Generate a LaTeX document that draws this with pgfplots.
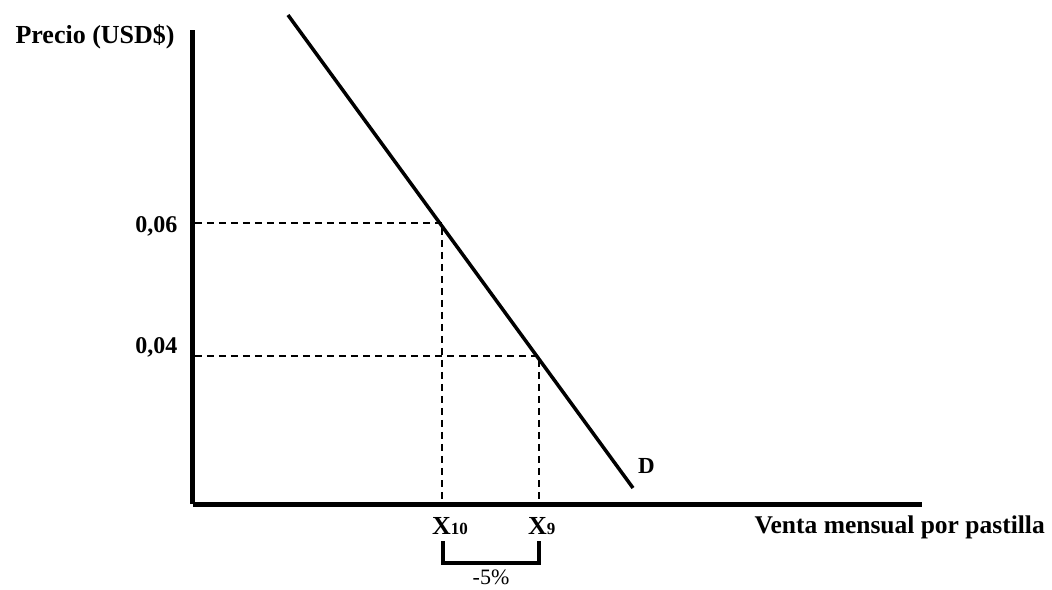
\documentclass[border=0pt]{standalone}
\usepackage{fontspec}
\setmainfont{Liberation Serif}
\usepackage{pgfplots}
\pgfplotsset{compat=1.18}
\begin{document}
\begin{tikzpicture}
\begin{axis}[x=1pt,y=1pt,
  xmin=193,xmax=922,ymin=85,ymax=559,
  axis lines=left,
  axis line style={line width=5pt,-},
  xtick=\empty, ytick=\empty,
  clip=false]
\path (axis cs:0,0) rectangle (axis cs:1052,589);
% demand curve
\addplot[black, line width=3.5pt, no marks] coordinates {(288,574) (633,101)};
% dashed guides
\addplot[black, line width=1.3pt, no marks, dash pattern=on 7pt off 5pt] coordinates {(195,366) (442,366) (442,85)};
\addplot[black, line width=1.3pt, no marks, dash pattern=on 7pt off 5pt] coordinates {(195,233) (539,233) (539,85)};
% bracket
\addplot[black, line width=4pt, no marks, line join=miter] coordinates {(443,48) (443,26) (539,26) (539,48)};
\node[anchor=base west, font=\fontsize{26}{30}\selectfont\bfseries] at (axis cs:12,545) {Precio (USD\$)};
\node[anchor=base east, font=\fontsize{24}{28}\selectfont\bfseries] at (axis cs:181,356) {0,06};
\node[anchor=base east, font=\fontsize{24}{28}\selectfont\bfseries] at (axis cs:181,235) {0,04};
\node[anchor=base west, font=\fontsize{26}{30}\selectfont\bfseries, inner sep=0pt] at (axis cs:432,55) {X{\fontsize{17}{20}\selectfont 10}};
\node[anchor=base west, font=\fontsize{26}{30}\selectfont\bfseries, inner sep=0pt] at (axis cs:528,55) {X{\fontsize{17}{20}\selectfont 9}};
\node[anchor=base, font=\fontsize{22}{26}\selectfont, inner sep=0pt] at (axis cs:491,5) {-5\%};
\node[anchor=base west, font=\fontsize{23}{27}\selectfont\bfseries, inner sep=0pt] at (axis cs:638,116) {D};
\node[anchor=base east, font=\fontsize{25.5}{30}\selectfont\bfseries, inner sep=0pt] at (axis cs:1045,56) {Venta mensual por pastilla};
\end{axis}
\end{tikzpicture}
\end{document}
